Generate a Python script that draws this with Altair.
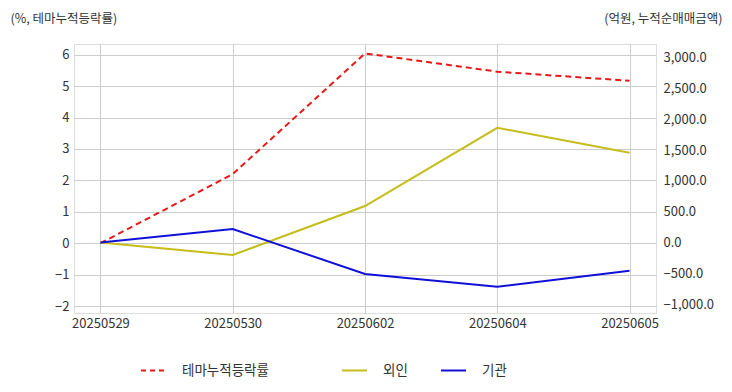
import altair as alt
import pandas as pd

dates = ["20250529", "20250530", "20250602", "20250604", "20250605"]
theme = [0.0, 2.20, 6.04, 5.46, 5.17]
foreign = [0.0, -203, 593, 1864, 1458]
inst = [0.0, 219, -511, -718, -458]

left_ticks = [-2, -1, 0, 1, 2, 3, 4, 5, 6]
right_ticks = [-1000, -500, 0, 500, 1000, 1500, 2000, 2500, 3000]

FONT = "Noto Sans CJK KR"

df_theme = pd.DataFrame({"date": dates, "value": theme, "series": "테마누적등락률"})
df_flow = pd.concat([
    pd.DataFrame({"date": dates, "value": foreign, "series": "외인"}),
    pd.DataFrame({"date": dates, "value": inst, "series": "기관"}),
])

x_enc = alt.X(
    "date:O",
    sort=dates,
    scale=alt.Scale(type="point", padding=0.2),
    axis=alt.Axis(title=None, labelAngle=0, grid=True, ticks=False, domain=False,
                  labelPadding=4, labelFontSize=13, labelColor="#333333",
                  gridColor="#cccccc", labelFont=FONT),
)

theme_line = alt.Chart(df_theme).mark_line(strokeWidth=2, strokeDash=[6, 4]).encode(
    x=x_enc,
    y=alt.Y("value:Q",
            scale=alt.Scale(domain=[-2.22, 6.34], nice=False, zero=False),
            axis=alt.Axis(title="(%, 테마누적등락률)", values=left_ticks, format="d",
                          titleAngle=0, titleX=-64, titleY=-26, titleAlign="left",
                          titleBaseline="middle", titleFontWeight="normal",
                          titleFontSize=12.5, titleColor="#333333", titleFont=FONT,
                          labelFontSize=13, labelColor="#333333", labelFont=FONT,
                          ticks=False, domain=False, labelPadding=5,
                          gridColor="#cccccc", orient="left")),
    color=alt.Color("series:N",
                    scale=alt.Scale(domain=["테마누적등락률"], range=["#e81818"]),
                    legend=alt.Legend(title=None, orient="none", legendX=66, legendY=313,
                                      direction="horizontal", symbolType="stroke",
                                      symbolDash=[5, 4], symbolStrokeWidth=2,
                                      symbolSize=625, labelOffset=15,
                                      labelFontSize=13.5, labelColor="#333333",
                                      labelFont=FONT)),
)

flow_lines = alt.Chart(df_flow).mark_line(strokeWidth=2).encode(
    x=x_enc,
    y=alt.Y("value:Q",
            scale=alt.Scale(domain=[-1145, 3225], nice=False, zero=False),
            axis=alt.Axis(title="(억원, 누적순매매금액)", values=right_ticks, format=",.1f",
                          titleAngle=0, titleX=66, titleY=-26, titleAlign="right",
                          titleBaseline="middle", titleFontWeight="normal",
                          titleFontSize=12.5, titleColor="#333333", titleFont=FONT,
                          labelFontSize=13, labelColor="#333333", labelFont=FONT,
                          ticks=False, domain=False, labelPadding=7,
                          gridColor="#cccccc", orient="right")),
    color=alt.Color("series:N", sort=["외인", "기관"],
                    scale=alt.Scale(domain=["외인", "기관"], range=["#c4bd1a", "#1010d8"]),
                    legend=alt.Legend(title=None, orient="none", legendX=267, legendY=313,
                                      direction="horizontal", symbolType="stroke",
                                      symbolStrokeWidth=2, symbolSize=625,
                                      labelOffset=15, columnPadding=29,
                                      labelFontSize=13.5, labelColor="#333333",
                                      labelFont=FONT)),
)

chart = alt.layer(theme_line, flow_lines).resolve_scale(
    y="independent", color="independent"
).properties(
    width=582, height=269,
    autosize=alt.AutoSizeParams(type="none"),
    padding={"left": 66, "top": 36, "right": 68, "bottom": 70},
).configure_view(
    stroke="#c8c8c8", strokeWidth=1.5
).configure(font=FONT, background="white")

chart.save("out.html", embed_options={"renderer": "svg", "actions": False})
